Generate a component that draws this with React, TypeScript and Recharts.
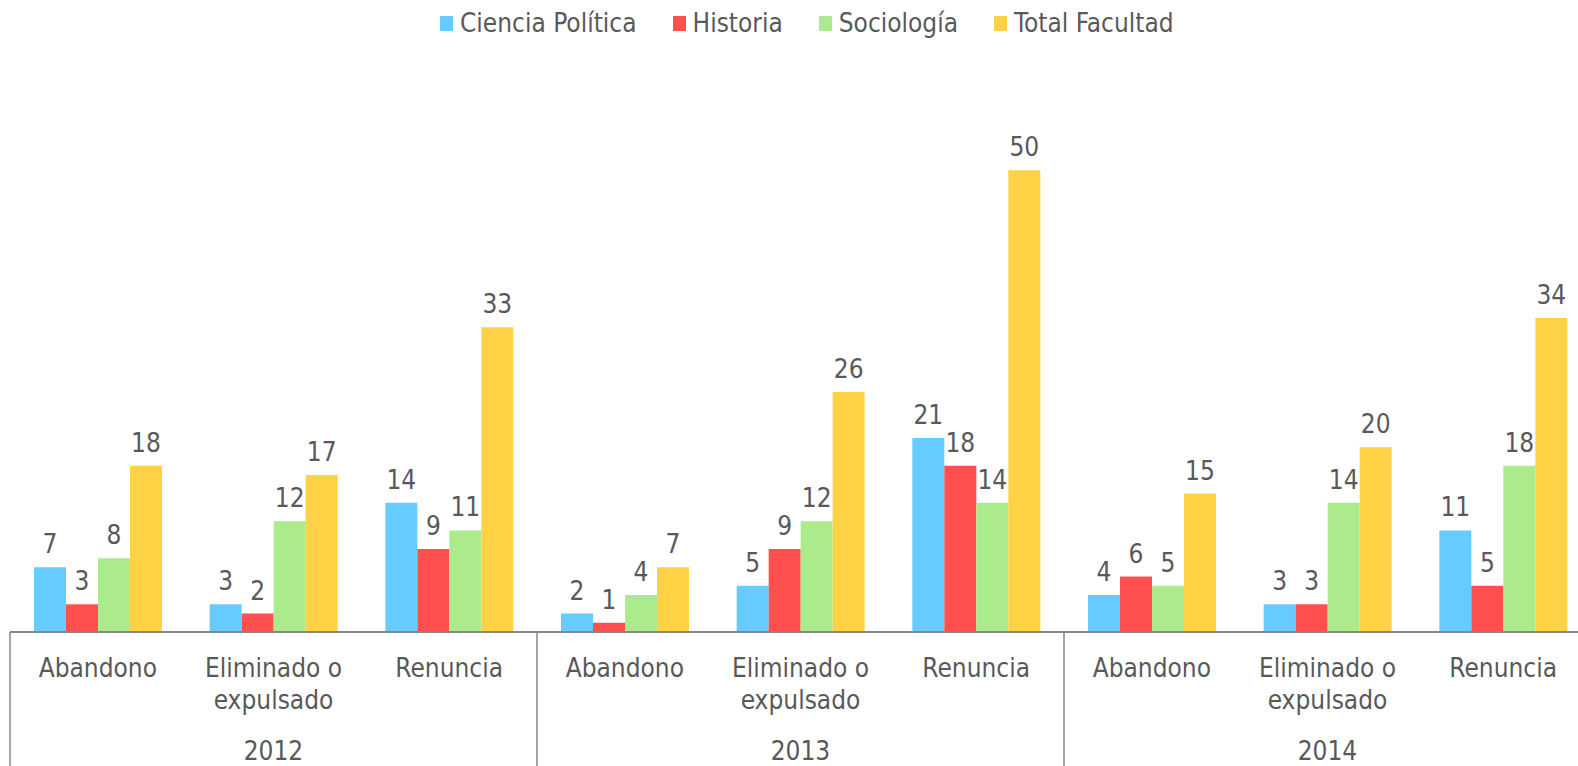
import { BarChart, Bar, XAxis, YAxis, LabelList } from 'recharts'

const categories = [
  'Abandono', 'Eliminado o\nexpulsado', 'Renuncia',
  'Abandono', 'Eliminado o\nexpulsado', 'Renuncia',
  'Abandono', 'Eliminado o\nexpulsado', 'Renuncia',
]
const years = ['2012', '2012', '2012', '2013', '2013', '2013', '2014', '2014', '2014']

const cienciaPolitica = [7, 3, 14, 2, 5, 21, 4, 3, 11]
const historia = [3, 2, 9, 1, 9, 18, 6, 3, 5]
const sociologia = [8, 12, 11, 4, 12, 14, 5, 14, 18]
const totalFacultad = [18, 17, 33, 7, 26, 50, 15, 20, 34]

const series = [
  { key: 'cp', name: 'Ciencia Política', color: '#66CBFF' },
  { key: 'hi', name: 'Historia', color: '#FF4F4F' },
  { key: 'so', name: 'Sociología', color: '#ABEB8B' },
  { key: 'tf', name: 'Total Facultad', color: '#FFD246' },
]

const data = categories.map((cat, i) => ({
  id: i,
  cat,
  year: years[i],
  cp: cienciaPolitica[i],
  hi: historia[i],
  so: sociologia[i],
  tf: totalFacultad[i],
}))

const FONT = "'DejaVu Sans Condensed', 'DejaVu Sans', sans-serif"
const TEXT = '#595959'
const AXIS = '#878787'

const CHART_W = 1591
const CHART_H = 766
const MARGIN_L = 10
const BAND = (CHART_W - MARGIN_L) / categories.length
const AXIS_H = 134

function CategoryTick(props: any) {
  const { x, y, payload } = props
  const i = payload.value as number
  const lines = categories[i].split('\n')
  return (
    <g>
      {lines.map((l, k) => (
        <text
          key={k}
          x={x}
          y={y + 45 + k * 32}
          textAnchor="middle"
          fill={TEXT}
          fontSize={26}
          fontFamily={FONT}
        >
          {l}
        </text>
      ))}
      {i % 3 === 1 && (
        <text x={x} y={y + 128} textAnchor="middle" fill={TEXT} fontSize={26} fontFamily={FONT}>
          {years[i]}
        </text>
      )}
      {i % 3 === 0 && (
        <line x1={x - BAND / 2} x2={x - BAND / 2} y1={y} y2={y + AXIS_H} stroke={AXIS} strokeWidth={1.5} />
      )}
      {i === categories.length - 1 && (
        <line x1={x + BAND / 2} x2={x + BAND / 2} y1={y} y2={y + AXIS_H} stroke={AXIS} strokeWidth={1.5} />
      )}
    </g>
  )
}

function ChartLegend() {
  return (
    <div
      style={{
        position: 'absolute',
        top: 9,
        left: 440,
        display: 'flex',
        gap: 36,
        fontFamily: FONT,
        fontSize: 26,
        color: TEXT,
        lineHeight: '28px',
        whiteSpace: 'nowrap',
      }}
    >
      {series.map((s) => (
        <div key={s.key} style={{ display: 'flex', alignItems: 'center', gap: 7 }}>
          <span style={{ display: 'inline-block', width: 13, height: 15, background: s.color }} />
          <span>{s.name}</span>
        </div>
      ))}
    </div>
  )
}

export default function App() {
  return (
    <div
      style={{
        position: 'fixed',
        top: 0,
        left: 0,
        width: 1578,
        height: 766,
        overflow: 'hidden',
        background: '#fff',
      }}
    >
      <ChartLegend />
      <BarChart
        width={CHART_W}
        height={CHART_H}
        data={data}
        margin={{ top: 78, right: 0, left: MARGIN_L, bottom: 0 }}
        barCategoryGap={24}
        barGap={0}
      >
        <XAxis
          dataKey="id"
          height={AXIS_H}
          tick={<CategoryTick />}
          tickLine={false}
          tickSize={0}
          tickMargin={0}
          interval={0}
          axisLine={{ stroke: AXIS, strokeWidth: 2 }}
        />
        <YAxis hide domain={[0, 60]} />
        {series.map((s) => (
          <Bar key={s.key} dataKey={s.key} name={s.name} fill={s.color} isAnimationActive={false}>
            <LabelList
              dataKey={s.key}
              position="top"
              offset={14}
              fill={TEXT}
              fontSize={26}
              fontFamily={FONT}
            />
          </Bar>
        ))}
      </BarChart>
    </div>
  )
}
